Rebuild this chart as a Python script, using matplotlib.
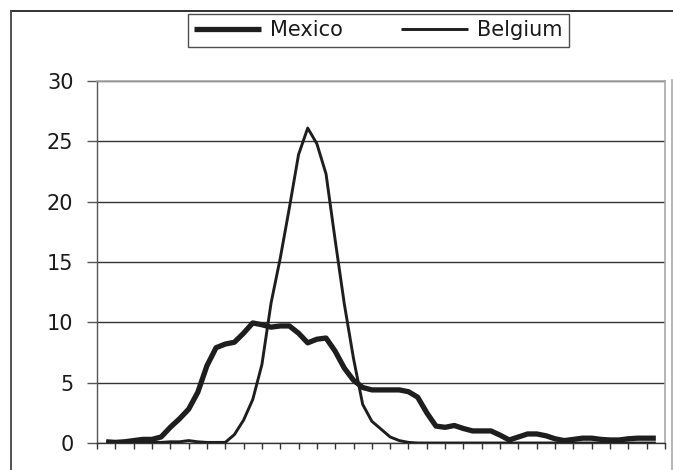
import numpy as np
import matplotlib
matplotlib.use("Agg")
import matplotlib.pyplot as plt
from matplotlib.lines import Line2D

plt.rcParams['font.family'] = ['DejaVu Sans']

# Series values read at half-category steps (61 readings over 31 categories)
mexico = [0.1, 0.05, 0.1, 0.2, 0.3, 0.3, 0.5, 1.3, 2.0, 2.8,
          4.2, 6.4, 7.9, 8.2, 8.35, 9.1, 9.95, 9.8, 9.6, 9.7,
          9.7, 9.1, 8.3, 8.6, 8.7, 7.6, 6.2, 5.2, 4.6, 4.4,
          4.4, 4.4, 4.4, 4.25, 3.8, 2.5, 1.4, 1.3, 1.45, 1.2,
          1.0, 1.0, 1.0, 0.65, 0.25, 0.5, 0.75, 0.75, 0.6, 0.35,
          0.2, 0.3, 0.4, 0.4, 0.3, 0.25, 0.25, 0.35, 0.4, 0.4,
          0.4]
belgium = [0.1, 0.05, 0.0, 0.0, 0.0, 0.05, 0.05, 0.1, 0.1, 0.2,
           0.1, 0.05, 0.05, 0.05, 0.7, 1.9, 3.6, 6.5, 11.6, 15.3,
           19.5, 23.9, 26.1, 24.8, 22.3, 16.8, 11.5, 7.0, 3.2, 1.8,
           1.15, 0.5, 0.2, 0.05, 0.0, 0.0, 0.0, 0.0, 0.0, 0.0,
           0.0, 0.0, 0.0, 0.0, 0.0, 0.0, 0.0, 0.0, 0.0, 0.0,
           0.0, 0.0, 0.0, 0.0, 0.0, 0.0, 0.0, 0.0, 0.0, 0.0,
           0.0]
n_categories = 31
series_names = ["Mexico", "Belgium"]
y_ticks = [0, 5, 10, 15, 20, 25, 30]

W, H = 673, 470
fig = plt.figure(figsize=(W / 100, H / 100), dpi=100)
ax = fig.add_axes([97 / W, 1 - 443 / H, (665 - 97) / W, (443 - 81) / H])

x = np.arange(len(mexico)) / 2 + 0.5
ink = '#1e1e1e'
l1, = ax.plot(x, mexico, color=ink, lw=3.8, solid_joinstyle='round',
              solid_capstyle='butt', label=series_names[0], zorder=4)
l2, = ax.plot(x, belgium, color=ink, lw=2.1, solid_joinstyle='round',
              solid_capstyle='butt', label=series_names[1], zorder=3)

ax.set_xlim(0, n_categories)
ax.set_ylim(0, 30)
ax.set_yticks(y_ticks)
ax.set_xticks(np.arange(n_categories + 1))
ax.set_xticklabels([])
ax.yaxis.grid(True, color='#333333', lw=1.0)
ax.set_axisbelow(True)

ax.tick_params(axis='y', length=7, width=1.0, color='#555555', pad=10,
               labelsize=15, labelcolor='#1a1a1a')
ax.tick_params(axis='x', length=4, width=1.0, color='#333333')

for side in ['top', 'right']:
    ax.spines[side].set_color('#a8a8a8')
    ax.spines[side].set_linewidth(1.2)
ax.spines['left'].set_color('#555555')
ax.spines['left'].set_linewidth(1.0)
ax.spines['bottom'].set_color('#333333')
ax.spines['bottom'].set_linewidth(1.0)

leg = fig.legend(handles=[l1, l2], loc='center',
                 bbox_to_anchor=(378.5 / W, 1 - 30.5 / H), ncol=2,
                 fontsize=15, frameon=True, fancybox=False,
                 handlelength=3.2, handletextpad=0.45, columnspacing=2.8,
                 borderpad=0.3, borderaxespad=0)
leg.get_frame().set_edgecolor('#222222')
leg.get_frame().set_linewidth(1.0)
for t in leg.get_texts():
    t.set_color('#1a1a1a')

# chart-area frame
fy = 1 - 11 / H
fx = 11 / W
fig.add_artist(Line2D([fx, 1.0], [fy, fy], color='#222222', lw=1.3))
fig.add_artist(Line2D([fx, fx], [0, fy], color='#444444', lw=1.3))
fig.add_artist(Line2D([671.5 / W, 671.5 / W], [0, 1 - 80 / H], color='#a8a8a8', lw=1.2))

fig.savefig("out.png", dpi=100)
